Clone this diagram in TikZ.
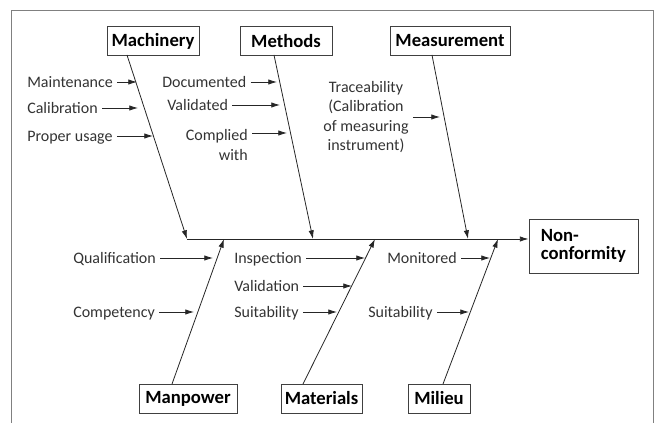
\documentclass[tikz,border=0pt]{standalone}
\usepackage{fontspec}
\setmainfont{Carlito}
\usetikzlibrary{arrows,arrows.meta,calc}
\tikzstyle{cause}=[draw=black!75, fill=white, font=\fontsize{14}{16}\selectfont\bfseries, minimum height=21.5pt, inner xsep=3pt]
\tikzstyle{effect}=[cause, font=\fontsize{14}{13.5}\selectfont\bfseries, align=left, text width=64pt, inner xsep=9pt, minimum height=40.5pt]
\tikzstyle{sub}=[font=\fontsize{12}{14.6}\selectfont, text=black!80, inner xsep=3pt, inner ysep=0pt, text height=12pt, text depth=3pt]
\tikzstyle{subm}=[font=\fontsize{12}{14.6}\selectfont, text=black!80, inner xsep=3pt, inner ysep=1pt]
\tikzstyle{bone}=[draw=black!85, line width=0.6pt, -{Latex[length=6.5pt,width=4pt]}]
\tikzstyle{twig}=[bone]
\tikzstyle{outline}=[draw=black!50, line width=0.75pt]
\newcommand{\subcause}[4]{
 \node[sub, anchor=west] (#1) at #2 {#3};
 \coordinate (#1tip) at #4;
 \draw[twig] (#1.east) -- (#1.east -| #1tip);
}

\begin{document}
\begin{tikzpicture}[x=0.75pt,y=-0.75pt]
 \useasboundingbox (0,0) rectangle (657,423);
 \draw[outline] (11,423) -- (11,11) -- (653,11) -- (653,423);
%
 \node[cause, minimum width=69pt] (mach) at (153,41) {Machinery};
 \node[cause, minimum width=69pt] (meth) at (286,41) {Methods};
 \node[cause, minimum width=90pt] (meas) at (450,41) {Measurement};
 \node[cause, minimum width=73.5pt] (manp) at (188,398.5) {Manpower};
 \node[cause, minimum width=59pt] (matl) at (321.5,398.5) {Materials};
 \node[cause, minimum width=46.5pt] (mil) at (439,398.5) {Milieu};
 \node[effect] (ncf) at (583.5,246) {Non-\\conformity};
%
 \coordinate (head) at (187,239);
 \coordinate (machtop) at (127,55);
 \coordinate (methtop) at (274,55);
 \coordinate (methend) at (313,239);
 \coordinate (meastop) at (432,55);
 \coordinate (measend) at (468,239);
 \coordinate (manpbot) at (172,384);
 \coordinate (manpend) at (224,239);
 \coordinate (matlbot) at (303,384);
 \coordinate (matlend) at (375,239);
 \coordinate (milbot) at (443,384);
 \coordinate (milend) at (498,239);
%
 \draw[bone] (head) -- (head -| ncf.west);
 \draw[bone] (machtop) -- (head);
 \draw[bone] (methtop) -- (methend);
 \draw[bone] (meastop) -- (measend);
 \draw[bone] (manpbot) -- (manpend);
 \draw[bone] (matlbot) -- (matlend);
 \draw[bone] (milbot) -- (milend);
%
 \subcause{maint}{(23,82)}{Maintenance}{(137,82)}
 \subcause{calib}{(23,108)}{Calibration}{(138,108)}
 \subcause{usage}{(23,136)}{Proper usage}{(153,136)}
 \subcause{docu}{(158,82)}{Documented}{(277,82)}
 \subcause{vali}{(163,105)}{Validated}{(280,105)}
 \node[subm, anchor=north east, align=right] (compl) at (252,128) {Complied\\with};
 \coordinate (compltip) at (287,133);
 \draw[twig] ($(compl.north east)+(0,5)$) -- (compltip);
 \node[subm, align=center] (trace) at (366,117) {Traceability\\(Calibration\\of measuring\\instrument)};
 \coordinate (tracetip) at (440,117);
 \draw[twig] (trace.east) -- (trace.east -| tracetip);
%
 \subcause{qual}{(69,258)}{Qualification}{(213,258)}
 \subcause{comp}{(69,312)}{Competency}{(194,312)}
 \subcause{insp}{(230,258)}{Inspection}{(365,258)}
 \subcause{valid}{(230,286)}{Validation}{(352,286)}
 \subcause{suitm}{(230,312)}{Suitability}{(337,312)}
 \subcause{moni}{(383,258)}{Monitored}{(490,258)}
 \subcause{suitl}{(364,312)}{Suitability}{(469,312)}
\end{tikzpicture}
\end{document}
